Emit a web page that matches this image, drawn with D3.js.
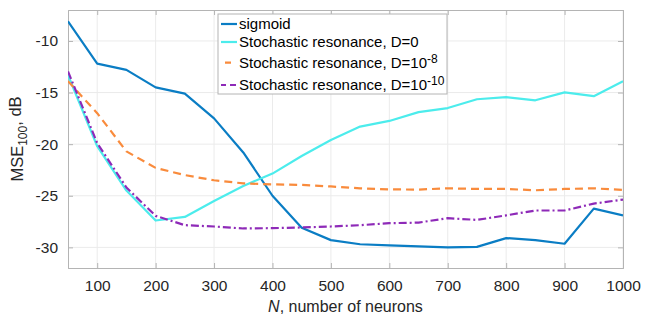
<!DOCTYPE html>
<html>
<head>
<meta charset="utf-8">
<script src="https://cdn.jsdelivr.net/npm/d3@7"></script>
<style>
  body { margin: 0; background: #fff; }
</style>
</head>
<body>
<div id="chart"></div>
<script>
// MSE vs number of neurons

const neurons = [50, 100, 150, 200, 250, 300, 350, 400, 450, 500, 550, 600, 650, 700, 750, 800, 850, 900, 950, 1000];

const sigmoid = [-8.1, -12.2, -12.8, -14.5, -15.1, -17.5, -20.8, -25.0, -28.1, -29.3, -29.7, -29.8, -29.9, -30.0, -29.95, -29.1, -29.3, -29.65, -26.25, -26.9];
const srD0 = [-13.3, -20.2, -24.5, -27.4, -27.05, -25.5, -24.05, -22.85, -21.15, -19.6, -18.3, -17.75, -16.9, -16.5, -15.65, -15.45, -15.75, -14.98, -15.35, -13.9];
const srD8 = [-13.9, -17.0, -20.7, -22.3, -23.0, -23.5, -23.8, -23.9, -23.95, -24.1, -24.28, -24.38, -24.4, -24.28, -24.34, -24.34, -24.47, -24.34, -24.28, -24.44];
const srD10 = [-12.95, -19.9, -24.2, -26.95, -27.85, -27.98, -28.17, -28.14, -28.07, -27.98, -27.85, -27.66, -27.6, -27.17, -27.34, -26.9, -26.43, -26.43, -25.76, -25.37];

const xTicks = [100, 200, 300, 400, 500, 600, 700, 800, 900, 1000];
const yTicks = [-30, -25, -20, -15, -10];

const series = [
    { name: "sigmoid", values: sigmoid, color: "#0a7dc4", dash: null, legDash: null },
    { name: "Stochastic resonance, D=0", values: srD0, color: "#4cecec", dash: null, legDash: null },
    { name: "Stochastic resonance, D=10", sup: "-8", values: srD8, color: "#f98b3c", dash: "8,5", legDash: "0,4,6,20" },
    { name: "Stochastic resonance, D=10", sup: "-10", values: srD10, color: "#8e2ab8", dash: "8,3,2,3", legDash: "5,4,6,20" }
];

const FONT = "'Liberation Sans', Arial, Helvetica, sans-serif";

const margin = { top: 10, right: 31, bottom: 48, left: 68 },
      width = 654 - margin.left - margin.right,
      height = 316 - margin.top - margin.bottom;

const svg = d3.select("#chart").append("svg")
    .attr("width", 654)
    .attr("height", 316)
    .style("font-family", FONT)
  .append("g")
    .attr("transform", `translate(${margin.left},${margin.top})`);

const x = d3.scaleLinear().domain([50, 1000]).range([0, width]);
const y = d3.scaleLinear().domain([-32, -7]).range([height, 0]);

// grid
svg.append("g").selectAll("line")
    .data(xTicks)
    .join("line")
    .attr("x1", d => x(d)).attr("x2", d => x(d))
    .attr("y1", 0).attr("y2", height)
    .attr("stroke", "#ebebeb");

svg.append("g").selectAll("line")
    .data(yTicks)
    .join("line")
    .attr("x1", 0).attr("x2", width)
    .attr("y1", d => y(d)).attr("y2", d => y(d))
    .attr("stroke", "#ebebeb");

// axes
const xAxis = svg.append("g")
    .attr("transform", `translate(0,${height})`)
    .call(d3.axisBottom(x).tickValues(xTicks).tickSize(-5).tickPadding(12).tickFormat(d => String(d)));

const yAxis = svg.append("g")
    .call(d3.axisLeft(y).tickValues(yTicks).tickSize(-5).tickPadding(10).tickFormat(d => String(d)));

[xAxis, yAxis].forEach(g => {
    g.attr("font-family", FONT);
    g.select(".domain").attr("stroke", "#b4b4b4");
    g.selectAll(".tick line").attr("stroke", "#b4b4b4");
    g.selectAll("text")
        .style("font-family", FONT)
        .style("font-size", "15.5px")
        .style("fill", "#262626");
});

// top and right box edges with inward ticks
svg.append("g")
    .call(d3.axisTop(x).tickValues(xTicks).tickSize(-5).tickFormat(""))
    .call(g => g.selectAll("path, line").attr("stroke", "#b4b4b4"));

svg.append("g")
    .attr("transform", `translate(${width},0)`)
    .call(d3.axisRight(y).tickValues(yTicks).tickSize(-5).tickFormat(""))
    .call(g => g.selectAll("path, line").attr("stroke", "#b4b4b4"));

// lines
const line = d3.line()
    .x((d, i) => x(neurons[i]))
    .y(d => y(d));

svg.append("defs").append("clipPath").attr("id", "clip")
    .append("rect").attr("width", width).attr("height", height);

svg.append("g").attr("clip-path", "url(#clip)")
    .selectAll("path")
    .data(series)
    .join("path")
    .attr("d", d => line(d.values))
    .attr("fill", "none")
    .attr("stroke", d => d.color)
    .attr("stroke-width", 2.2)
    .attr("stroke-dasharray", d => d.dash)
    .attr("stroke-linejoin", "round");

// legend
const legend = svg.append("g").attr("transform", `translate(${218 - margin.left},${14 - margin.top})`);

legend.append("rect")
    .attr("width", 229)
    .attr("height", 80)
    .attr("fill", "#fff")
    .attr("stroke", "#b4b4b4");

const rowY = [10, 28, 48.7, 71];

legend.selectAll("g.entry")
    .data(series)
    .join("g")
    .attr("class", "entry")
    .attr("transform", (d, i) => `translate(0,${rowY[i]})`)
    .each(function(d) {
        const g = d3.select(this);
        g.append("line")
            .attr("x1", 3).attr("x2", 19)
            .attr("stroke", d.color)
            .attr("stroke-width", 2.2)
            .attr("stroke-dasharray", d.legDash);
        const t = g.append("text")
            .attr("x", 21)
            .attr("dy", "0.35em")
            .style("font-family", FONT)
            .style("font-size", "15px")
            .style("fill", "#000")
            .text(d.name);
        if (d.sup) {
            t.append("tspan")
                .attr("dy", "-0.45em")
                .style("font-size", "12px")
                .text(d.sup);
        }
    });

// axis labels
const xl = svg.append("text")
    .attr("x", width / 2)
    .attr("y", height + 44)
    .attr("text-anchor", "middle")
    .style("font-family", FONT)
    .style("font-size", "16px")
    .style("fill", "#262626");
xl.append("tspan").style("font-style", "italic").text("N");
xl.append("tspan").text(", number of neurons");

const yl = svg.append("text")
    .attr("transform", `translate(-45,${height / 2}) rotate(-90)`)
    .attr("text-anchor", "middle")
    .style("font-family", FONT)
    .style("font-size", "16.5px")
    .style("fill", "#262626");
yl.append("tspan").text("MSE");
yl.append("tspan").attr("dy", "0.35em").style("font-size", "12px").text("100");
yl.append("tspan").attr("dy", "-0.35em").text(", dB");
</script>
</body>
</html>
